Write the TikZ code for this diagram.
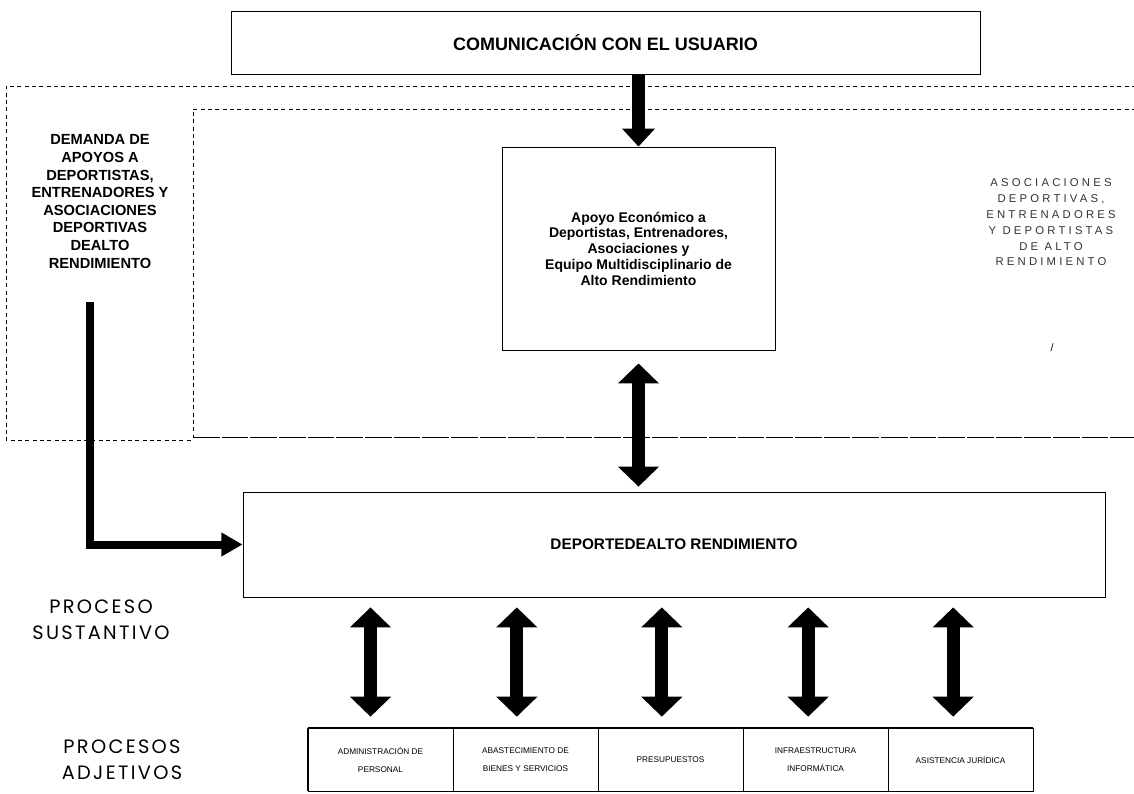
\documentclass[tikz,border=0pt]{standalone}
\usepackage{fontspec}
\setmainfont{Liberation Sans}
\newfontfamily\geofont[LetterSpace=12]{Poppins}
\newfontfamily\thinfont[LetterSpace=28]{Liberation Sans}
\usepackage{xcolor}
\usepackage{tikz}
\usetikzlibrary{arrows.meta}

\tikzset{
  box/.style={draw, line width=0.7pt, inner sep=0pt, align=center},
  zone/.style={line width=0.5pt, dash pattern=on 3pt off 2.5pt},
  fatarrow/.style={line width=9.75pt, -{Triangle[width=24pt,length=13.5pt]}},
  twoway/.style={line width=9.75pt, {Triangle[width=30pt,length=15pt]}-{Triangle[width=30pt,length=15pt]}},
  elbow/.style={line width=6pt, line join=miter, -{Triangle[width=17pt,length=16pt]}},
  subbox/.style={draw, line width=0.5pt, minimum width=108.75pt, minimum height=47.25pt, inner sep=0pt, align=center, font=\fontsize{6.2}{13.5}\selectfont}
}

\begin{document}
\begin{tikzpicture}[x=0.75pt,y=0.75pt,yscale=-1,xscale=1]
	\useasboundingbox (0,0) rectangle (1134,793);

	%Shape: Dashed zones
	\draw[zone] (1136,86) -- (6,86) -- (6,440) -- (193,440) ;
	\draw[zone] (1136,109) -- (193,109) -- (193,437) ;
	\draw[line width=0.5pt, dash pattern=on 20pt off 1.5pt] (193,437) -- (1136,437) ;

	%Shape: Rectangle
	\node[box, minimum width=561.75pt, minimum height=47.25pt, font=\bfseries\fontsize{13.5}{16}\selectfont] (comm) at (605.5,43) {COMUNICACIÓN CON EL USUARIO};
	%Shape: Rectangle
	\node[box, minimum width=204.75pt, minimum height=152.25pt, font=\bfseries\fontsize{10.5}{11.8}\selectfont] (aid) at (638.5,248.5) {Apoyo Económico a\\Deportistas, Entrenadores,\\Asociaciones y\\Equipo Multidisciplinario de\\Alto Rendimiento};
	%Shape: Rectangle
	\node[box, line width=0.6pt, minimum width=646.5pt, minimum height=78.75pt, font=\bfseries\fontsize{11.5}{13}\selectfont] (sport) at (674,544.5) {DEPORTEDEALTO RENDIMIENTO};

	% Text Node
	\node[align=center, font=\bfseries\fontsize{11}{13.2}\selectfont] (demand) at (100,201.5) {DEMANDA DE\\APOYOS A\\DEPORTISTAS,\\ENTRENADORES Y\\ASOCIACIONES\\DEPORTIVAS\\DEALTO\\RENDIMIENTO};
	% Text Node
	\node[align=center, text=black!80, font=\thinfont\fontsize{8.5}{11.85}\selectfont] (members) at (1051,222.5) {ASOCIACIONES\\DEPORTIVAS,\\ENTRENADORES\\Y DEPORTISTAS\\DE ALTO\\RENDIMIENTO};
	% Text Node
	\node[font=\fontsize{8}{10}\selectfont] (tick) at (1052,348) {/};
	% Text Node
	\node[align=center, font=\geofont\fontsize{14.5}{19.5}\selectfont] (core) at (101,620) {PROCESO\\SUSTANTIVO};
	% Text Node
	\node[align=center, font=\geofont\fontsize{14.5}{19.5}\selectfont] (support) at (122,760) {PROCESOS\\ADJETIVOS};

	%Shape: Rectangles
	\node[subbox] (staff) at (380.5,759.5) {ADMINISTRACIÓN DE\\PERSONAL};
	\node[subbox] (supply) at (525.5,759.5) {ABASTECIMIENTO DE\\BIENES Y SERVICIOS};
	\node[subbox] (budget) at (670.5,759.5) {PRESUPUESTOS};
	\node[subbox] (infra) at (815.5,759.5) {INFRAESTRUCTURA\\INFORMÁTICA};
	\node[subbox] (legal) at (960.5,759.5) {ASISTENCIA JURÍDICA};
	\draw[line width=1.5pt] (staff.north west) -- (legal.north east) ;
	\draw[line width=1.2pt] (staff.north west) -- (staff.south west) ;
	\draw[line width=1.2pt] (legal.north east) -- (legal.south east) ;

	%Straight Lines
	\draw[fatarrow] (aid.north |- comm.south) -- (aid.north) ;
	\draw[twoway, shorten <=9.75pt, shorten >=3.75pt] (aid.south) -- (aid.south |- sport.north) ;
	\coordinate (dstart) at (90,302) ;
	\draw[elbow] (dstart) |- (sport.west) ;

	%Straight Lines
	\draw[twoway, shorten <=7.5pt, shorten >=8.25pt] ([xshift=-7.5pt]staff.north |- sport.south) -- ([xshift=-7.5pt]staff.north) ;
	\draw[twoway, shorten <=7.5pt, shorten >=8.25pt] ([xshift=-6.5pt]supply.north |- sport.south) -- ([xshift=-6.5pt]supply.north) ;
	\draw[twoway, shorten <=7.5pt, shorten >=8.25pt] ([xshift=-6.5pt]budget.north |- sport.south) -- ([xshift=-6.5pt]budget.north) ;
	\draw[twoway, shorten <=7.5pt, shorten >=8.25pt] ([xshift=-5.5pt]infra.north |- sport.south) -- ([xshift=-5.5pt]infra.north) ;
	\draw[twoway, shorten <=7.5pt, shorten >=8.25pt] ([xshift=-5.5pt]legal.north |- sport.south) -- ([xshift=-5.5pt]legal.north) ;
\end{tikzpicture}
\end{document}
